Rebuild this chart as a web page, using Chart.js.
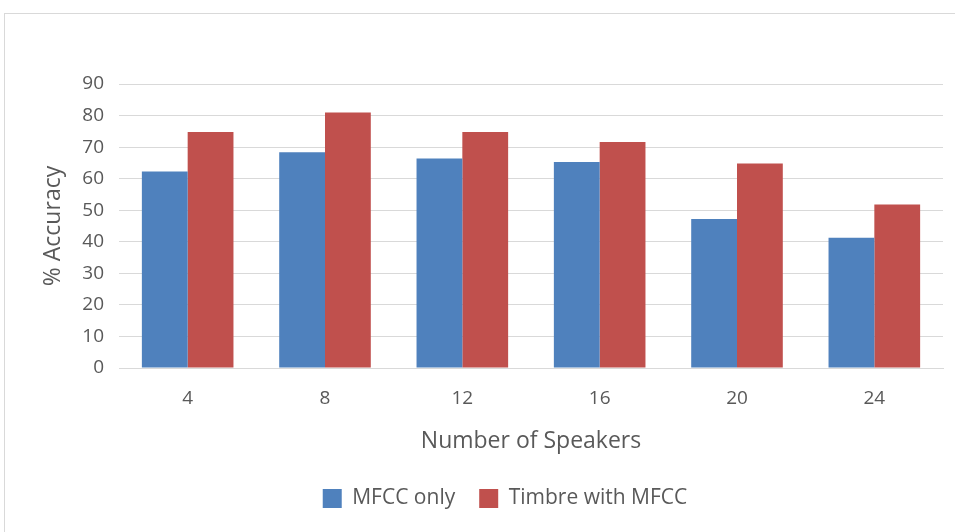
<!DOCTYPE html>
<html>
<head>
<meta charset="utf-8">
<script src="https://cdn.jsdelivr.net/npm/chart.js@4"></script>
<style>
  html, body { margin: 0; padding: 0; background: #ffffff; }
  #frame { position: absolute; left: 4px; top: 13px; width: 951px; height: 519px;
           border-top: 1px solid #d9d9d9; border-left: 1px solid #d9d9d9; box-sizing: border-box; }
  #wrap { position: absolute; left: 0px; top: 0px; width: 950px; height: 518px; }
</style>
</head>
<body>
<div id="frame"><div id="wrap"><canvas id="c" width="950" height="518"></canvas></div></div>
<script>
const categories = ["4", "8", "12", "16", "20", "24"];
const mfccOnly = [62.3, 68.4, 66.4, 65.3, 47.2, 41.3];
const timbreWithMfcc = [74.8, 81.0, 74.8, 71.6, 64.8, 51.8];
const seriesNames = ["MFCC only", "Timbre with MFCC"];
const yTitle = "% Accuracy";
const xTitle = "Number of Speakers";

const textColor = "#595959";
const fontFamily = "'Open Sans', 'Noto Sans', sans-serif";

const legendShift = {
  id: "legendShift",
  afterLayout(chart) {
    if (chart.legend) { chart.legend.left += 16; chart.legend.right += 16; }
  }
};

new Chart(document.getElementById("c"), {
  type: "bar",
  data: {
    labels: categories,
    datasets: [
      { label: seriesNames[0], data: mfccOnly, backgroundColor: "#4f81bd", categoryPercentage: 0.667, barPercentage: 1.0 },
      { label: seriesNames[1], data: timbreWithMfcc, backgroundColor: "#c0504d", categoryPercentage: 0.667, barPercentage: 1.0 }
    ]
  },
  plugins: [legendShift],
  options: {
    responsive: false,
    animation: false,
    layout: { padding: { left: 30, right: 12, top: 70, bottom: 13 } },
    plugins: {
      legend: {
        position: "bottom",
        labels: { boxWidth: 19, boxHeight: 19, color: textColor, font: { size: 21, family: fontFamily }, padding: 24 }
      },
      tooltip: { enabled: false }
    },
    scales: {
      x: {
        grid: { display: false, drawTicks: false },
        border: { display: true, color: "#d9d9d9" },
        ticks: { color: textColor, font: { size: 19, family: fontFamily }, padding: 19 },
        title: { display: true, text: xTitle, color: textColor, font: { size: 23, family: fontFamily }, padding: { top: 10, bottom: 9 } },
        afterFit: (s) => { s.height = 96; }
      },
      y: {
        min: 0, max: 90,
        ticks: { stepSize: 10, color: textColor, font: { size: 19, family: fontFamily }, padding: 15 },
        grid: { color: "#d9d9d9", drawTicks: false },
        border: { display: false },
        title: { display: true, text: yTitle, color: textColor, font: { size: 23, family: fontFamily }, padding: { top: 5, bottom: 0 } },
        afterFit: (s) => { s.width = 84; }
      }
    }
  }
});
</script>
</body>
</html>
